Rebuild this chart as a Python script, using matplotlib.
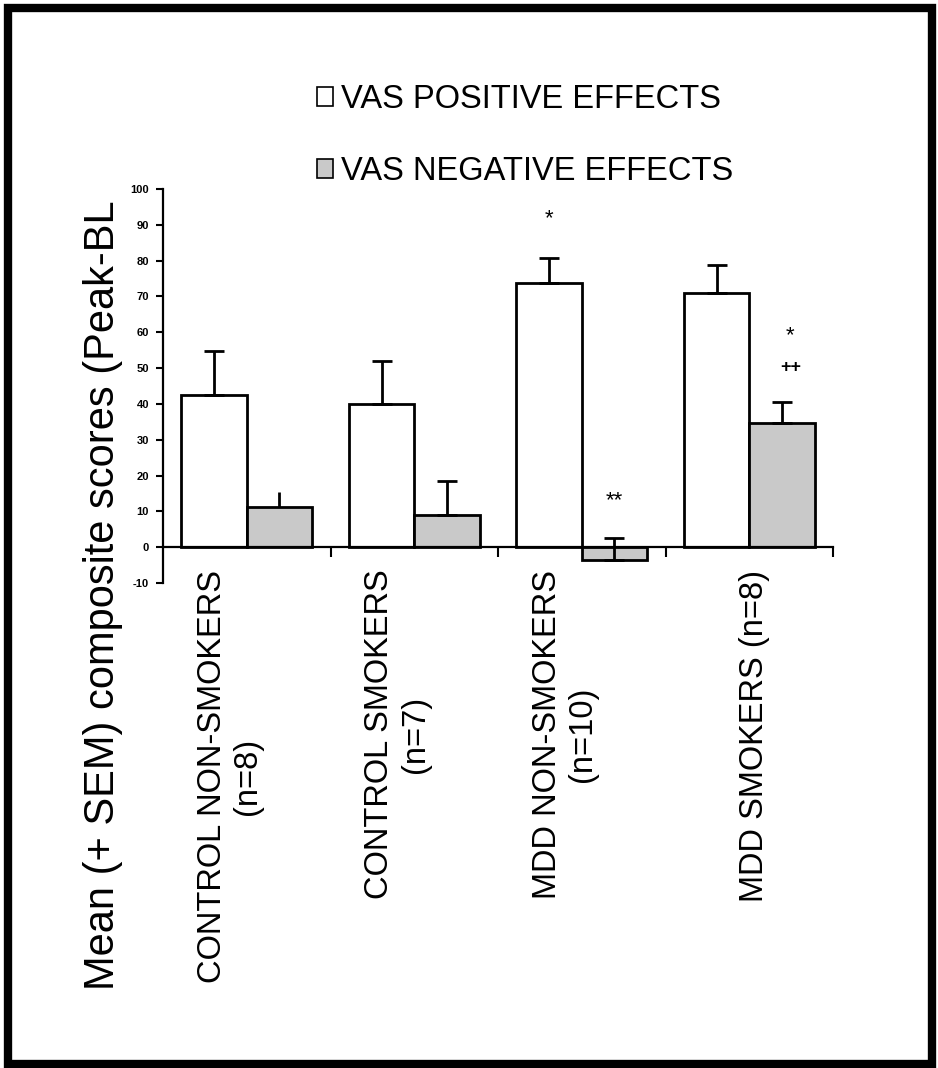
import matplotlib.pyplot as plt
from matplotlib.patches import Patch, Rectangle
import numpy as np

plt.rcParams['font.family'] = ['Liberation Sans', 'DejaVu Sans']

groups = ['CONTROL NON-SMOKERS\n(n=8)', 'CONTROL SMOKERS\n(n=7)',
          'MDD NON-SMOKERS\n(n=10)', 'MDD SMOKERS (n=8)']
pos = [42.5, 40.0, 73.7, 71.0]
pos_sem = [12.4, 12.0, 6.9, 7.8]
neg = [11.3, 8.9, -3.6, 34.6]
neg_sem = [4.2, 9.7, 6.1, 6.0]
yticks = [-10, 0, 10, 20, 30, 40, 50, 60, 70, 80, 90, 100]

GRAY = '#c9c9c9'
W = 0.39

fig = plt.figure(figsize=(9.38, 10.68), dpi=100)
ax = fig.add_axes([163 / 938, 1 - 583 / 1068, 670 / 938, 394 / 1068])

x = np.arange(len(groups))
ax.bar(x - W / 2, pos, W, color='white', edgecolor='black', linewidth=2, zorder=2)
ax.bar(x + W / 2, neg, W, color=GRAY, edgecolor='black', linewidth=2, zorder=2)

ax.errorbar(x - W / 2, pos, yerr=[np.zeros(4), pos_sem], fmt='none', ecolor='black',
            elinewidth=2, capsize=7.5, capthick=2, zorder=3)
# first gray bar has no cap in the original
for i in range(4):
    ax.errorbar(x[i] + W / 2, neg[i], yerr=[[0], [neg_sem[i]]], fmt='none', ecolor='black',
                elinewidth=2, capsize=0 if i == 0 else 7.5, capthick=2, zorder=3)

# significance marks
top_p = np.array(pos) + np.array(pos_sem)
top_n = np.array(neg) + np.array(neg_sem)
fs_star = 16
ax.text(x[2] - W / 2, top_p[2] + 11, '*', ha='center', va='center', fontsize=fs_star)
ax.text(x[2] + W / 2, top_n[2] + 10.5, '**', ha='center', va='center', fontsize=fs_star)
ax.text(x[3] + W / 2 + 0.05, top_n[3] + 18.5, '*', ha='center', va='center', fontsize=fs_star)
ax.text(x[3] + W / 2 + 0.05, top_n[3] + 9.5, '++', ha='center', va='center', fontsize=13,
        fontweight='bold')

ax.set_xlim(-0.5, 3.5)
ax.set_ylim(-10, 100)
ax.set_yticks(yticks)
ax.set_yticklabels([str(t) for t in yticks], fontsize=8, fontweight='bold')
ax.set_xticks(x + 0.5)
ax.set_xticklabels([])
ax.tick_params(axis='x', direction='out', length=7.5, width=1.5)
ax.tick_params(axis='y', direction='out', length=5, width=1.5, pad=5)

for s in ['top', 'right']:
    ax.spines[s].set_visible(False)
ax.spines['bottom'].set_position(('data', 0))
ax.spines['bottom'].set_linewidth(1.6)
ax.spines['left'].set_linewidth(1.6)

# category labels, rotated
for i, g in enumerate(groups):
    off = -0.1 if '\n' in g else 0.03
    ax.text(x[i] + off, -6.3, g, rotation=90, ha='center', va='top', fontsize=23.5,
            multialignment='center', linespacing=1.2, clip_on=False)

fig.text(103 / 938, 1 - 595 / 1068, 'Mean (+ SEM) composite scores (Peak-BL', rotation=90,
         ha='center', va='center', fontsize=30)

handles = [Patch(facecolor='white', edgecolor='black', linewidth=1.2),
           Patch(facecolor=GRAY, edgecolor='black', linewidth=1.2)]
fig.legend(handles, ['VAS POSITIVE EFFECTS', 'VAS NEGATIVE EFFECTS'],
           loc='upper left', bbox_to_anchor=(317 / 938, 1 - 84 / 1068), frameon=False,
           fontsize=23.5, handlelength=0.5, handleheight=0.5, handletextpad=0.25,
           labelspacing=1.25, borderpad=0, borderaxespad=0)

fig.patches.append(Rectangle((8 / 938, 4 / 1068), 924 / 938, 1056 / 1068,
                             transform=fig.transFigure, fill=False, edgecolor='black',
                             linewidth=6))

fig.savefig('out.png', dpi=100, facecolor='white')
